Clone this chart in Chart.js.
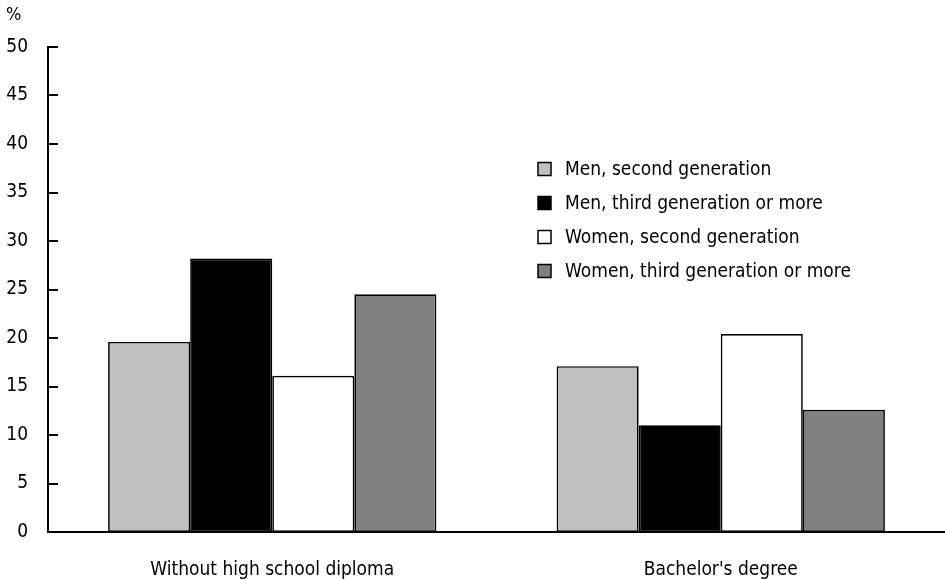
<!DOCTYPE html>
<html><head><meta charset="utf-8">
<script src="https://cdn.jsdelivr.net/npm/chart.js@4"></script>
<style>html,body{margin:0;padding:0;background:#fff}#wrap{width:945px;height:579px;position:relative}</style>
</head><body><div id="wrap"><canvas id="c" width="945" height="579"></canvas></div>
<script>
const categories = ["Without high school diploma", "Bachelor's degree"];
const seriesLabels = ["Men, second generation", "Men, third generation or more", "Women, second generation", "Women, third generation or more"];
const menSecond = [19.6, 17.1];
const menThird = [28.2, 11.0];
const womenSecond = [16.1, 20.4];
const womenThird = [24.5, 12.6];
const seriesColors = ["#c0c0c0", "#000000", "#ffffff", "#808080"];
const yTicks = [0, 5, 10, 15, 20, 25, 30, 35, 40, 45, 50];
const unitLabel = "%";

const FONT = "'Liberation Sans Narrow','DejaVu Sans Condensed',sans-serif";
const FS = 19;

const seriesValues = [menSecond, menThird, womenSecond, womenThird];

const extras = {
  id: 'extras',
  afterDraw(chart) {
    const ctx = chart.ctx;
    const y = chart.scales.y;
    const area = chart.chartArea;
    ctx.save();
    // inward ticks
    ctx.strokeStyle = '#000';
    ctx.lineWidth = 2;
    yTicks.forEach(v => {
      const py = Math.round(y.getPixelForValue(v));
      ctx.beginPath();
      ctx.moveTo(area.left, py);
      ctx.lineTo(area.left + 10, py);
      ctx.stroke();
    });
    // unit label
    ctx.fillStyle = '#000';
    ctx.font = (FS - 1) + 'px ' + FONT;
    ctx.textBaseline = 'middle';
    ctx.textAlign = 'left';
    ctx.fillText(unitLabel, 6, 15);
    // legend
    ctx.font = FS + 'px ' + FONT;
    chart.data.datasets.forEach((ds, i) => {
      const cy = 169 + 34 * i;
      ctx.fillStyle = ds.backgroundColor;
      ctx.fillRect(538, cy - 6.5, 13, 13);
      ctx.lineWidth = 1.5;
      ctx.strokeStyle = '#000';
      ctx.strokeRect(538, cy - 6.5, 13, 13);
      ctx.fillStyle = '#000';
      ctx.fillText(ds.label, 565, cy + 1);
    });
    ctx.restore();
  }
};

new Chart(document.getElementById('c'), {
  type: 'bar',
  data: {
    labels: categories,
    datasets: seriesLabels.map((l, i) => ({
      label: l,
      data: seriesValues[i],
      backgroundColor: seriesColors[i],
      borderColor: '#000',
      borderWidth: 1.7,
      borderSkipped: false,
      categoryPercentage: 0.732,
      barPercentage: 1.0
    }))
  },
  options: {
    responsive: false,
    animation: false,
    layout: { padding: { top: 47, left: 0, right: 0, bottom: 0 } },
    plugins: { legend: { display: false }, tooltip: { enabled: false } },
    scales: {
      x: {
        grid: { display: false, drawTicks: false },
        border: { display: true, color: '#000', width: 2 },
        ticks: { color: '#000', font: { family: FONT, size: FS }, padding: 27 },
        afterFit(s) { s.height = 47; }
      },
      y: {
        min: 0, max: 50,
        afterBuildTicks(s) { s.ticks = yTicks.map(v => ({ value: v })); },
        grid: { display: false, drawTicks: false },
        border: { display: true, color: '#000', width: 2 },
        ticks: { color: '#000', font: { family: FONT, size: FS }, padding: 20 },
        afterFit(s) { s.width = 48; }
      }
    }
  },
  plugins: [extras]
});
</script>
</body></html>
